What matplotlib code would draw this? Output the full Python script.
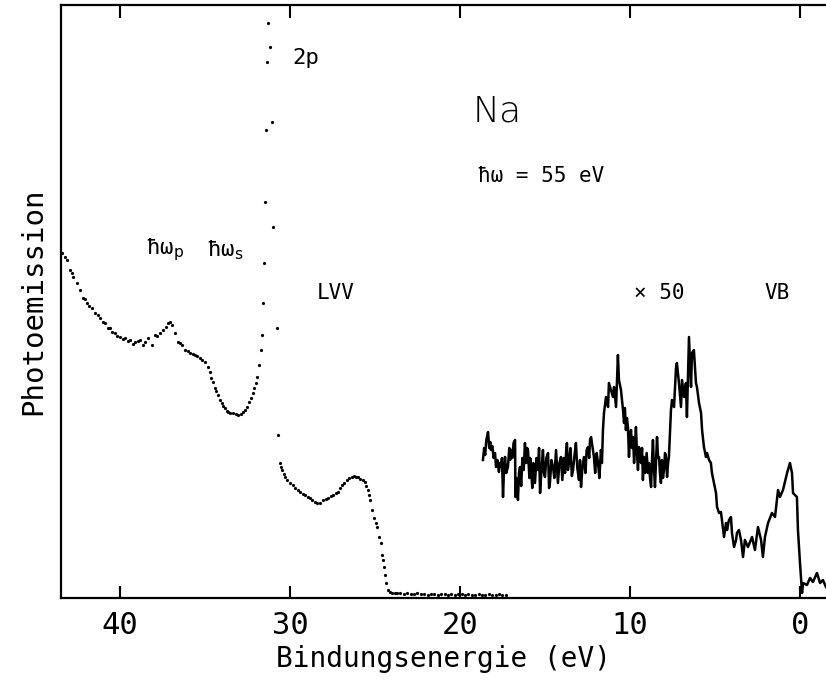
import matplotlib
matplotlib.use("Agg")
import matplotlib.pyplot as plt

# ---- main (dotted) spectrum: binding energy (eV) vs. photoemission (arb. units)
main_E = [43.41, 43.25, 43.12, 42.94, 42.85, 42.76, 42.53, 42.35, 42.18, 42.05,
          41.94, 41.80, 41.65, 41.47, 41.30, 41.18, 41.02, 40.88, 40.72, 40.59,
          40.45, 40.29, 40.15, 40.00, 39.85, 39.71, 39.55, 39.41, 39.25, 39.12,
          38.95, 38.82, 38.65, 38.53, 38.35, 38.12, 37.94, 37.80, 37.65, 37.47,
          37.30, 37.18, 37.05, 36.94, 36.76, 36.59, 36.45, 36.35, 36.18, 36.02,
          35.88, 35.70, 35.59, 35.45, 35.29, 35.15, 35.00, 34.82, 34.71, 34.62,
          34.53, 34.41, 34.33, 34.24, 34.12, 34.00, 33.92, 33.82, 33.72, 33.65,
          33.50, 33.35, 33.20, 33.06, 32.90, 32.76, 32.65, 32.53, 32.40, 32.29,
          32.20, 32.12, 32.02, 31.94, 31.82, 31.71, 31.65, 31.59, 31.53, 31.47,
          31.41, 31.35, 31.29,
          31.18, 31.06, 31.00, 30.76, 30.71, 30.59, 30.53, 30.47, 30.38, 30.29,
          30.15, 30.00, 29.85, 29.71, 29.55, 29.41, 29.25, 29.12, 28.95, 28.82,
          28.68, 28.53, 28.40, 28.24, 28.06, 27.90, 27.76, 27.60, 27.47, 27.30,
          27.18, 27.05, 26.94, 26.80, 26.65, 26.50, 26.35, 26.22, 26.12, 26.00,
          25.88, 25.72, 25.59, 25.50, 25.41, 25.35, 25.29, 25.18, 25.06, 24.97,
          24.88, 24.76, 24.65, 24.59, 24.53, 24.47, 24.41, 24.35, 24.24, 24.12,
          24.00, 23.85, 23.71,
          23.5, 23.3, 23.1, 22.9, 22.7, 22.5, 22.3, 22.1, 21.9, 21.7,
          21.5, 21.3, 21.1, 20.9, 20.7, 20.5, 20.3, 20.1, 19.9, 19.7,
          19.5, 19.3, 19.1, 18.9, 18.7, 18.5, 18.3, 18.1, 17.9, 17.7,
          17.5, 17.3]
main_I = [345, 341, 338, 328, 325, 321, 315, 308, 300, 299,
          295, 292, 290, 285, 283, 280, 276, 275, 270, 270,
          266, 265, 262, 261, 259, 260, 257, 258, 254, 256,
          257, 258, 253, 256, 260, 253, 263, 262, 265, 268,
          271, 275, 276, 273, 265, 256, 255, 253, 248, 247,
          245, 244, 243, 242, 240, 238, 236, 231, 226, 220,
          216, 210, 207, 203, 198, 195, 192, 190, 187, 186,
          185, 185, 184, 183, 184, 186, 188, 191, 196, 200,
          205, 210, 215, 221, 233, 248, 263, 295, 335, 396,
          468, 536, 575,
          551, 476, 371, 270, 163, 135, 131, 128, 124, 121,
          118, 115, 113, 110, 108, 106, 104, 103, 101, 100,
          98, 96, 95, 95, 98, 99, 100, 102, 103, 105,
          106, 110, 113, 115, 118, 120, 121, 122, 121, 121,
          119, 118, 116, 112, 108, 103, 98, 88, 80, 75,
          71, 61, 55, 43, 38, 31, 23, 15, 8, 6,
          5, 5, 5,
          5, 4, 5, 4, 4, 5, 4, 4, 3, 4,
          4, 3, 4, 4, 3, 4, 3, 4, 4, 3,
          4, 3, 3, 4, 3, 3, 4, 3, 3, 4,
          3, 3]

# ---- valence band region, magnified x 50
vb_E = [18.65, 18.58, 18.52, 18.45, 18.35, 18.28, 18.22, 18.18, 18.10, 18.02,
        17.94, 17.88, 17.80, 17.71, 17.65, 17.59, 17.53, 17.47, 17.41, 17.35,
        17.28, 17.18, 17.10, 17.05, 17.00, 16.92, 16.85, 16.76, 16.74, 16.68,
        16.59, 16.53, 16.47, 16.40, 16.33, 16.25, 16.18, 16.10, 16.05, 16.00,
        15.92, 15.87, 15.82, 15.75, 15.68, 15.59, 15.50, 15.41, 15.35, 15.29,
        15.20, 15.12, 15.06, 15.00, 14.92, 14.82, 14.76, 14.71, 14.62, 14.53,
        14.45, 14.35, 14.29, 14.24, 14.15, 14.06, 13.98, 13.90, 13.82, 13.76,
        13.71, 13.65, 13.59, 13.50, 13.42, 13.35, 13.25, 13.18, 13.10, 13.00,
        12.94, 12.88, 12.80, 12.71, 12.62, 12.55, 12.47, 12.40, 12.35, 12.29,
        12.20, 12.12, 12.05, 11.96, 11.88, 11.80, 11.71, 11.65, 11.59, 11.53,
        11.41, 11.29, 11.24, 11.00, 10.94, 10.82, 10.71, 10.65, 10.53, 10.41,
        10.35, 10.30, 10.24, 10.18, 10.12, 10.06, 10.00, 9.94, 9.88, 9.82,
        9.76, 9.70, 9.65, 9.59, 9.53, 9.47, 9.41, 9.35, 9.29, 9.24,
        9.18, 9.10, 9.02, 8.94, 8.88, 8.82, 8.76, 8.70, 8.65, 8.59,
        8.53, 8.47, 8.41, 8.35, 8.29, 8.24, 8.18, 8.12, 8.06, 8.00,
        7.94, 7.88, 7.82, 7.76, 7.71, 7.65, 7.59, 7.53, 7.41, 7.29,
        7.24, 7.12, 7.00, 6.94, 6.82, 6.71, 6.65, 6.53, 6.47, 6.41,
        6.35, 6.24, 6.12, 6.06, 5.94, 5.82, 5.76, 5.65, 5.53, 5.47,
        5.35, 5.24, 5.18, 5.06, 4.94, 4.88, 4.76, 4.65, 4.59, 4.47,
        4.35, 4.29, 4.18, 4.06, 4.00, 3.88, 3.76, 3.71, 3.59, 3.47,
        3.35, 3.24, 3.06, 2.82, 2.65, 2.47, 2.29, 2.18, 2.06, 1.88,
        1.65, 1.47, 1.29, 1.18, 1.00, 0.76, 0.59, 0.47, 0.41, 0.18,
        0.12, 0.00, -0.12, -0.18, -0.41, -0.59, -0.76, -1.00, -1.18, -1.35,
        -1.53]
vb_I = [138, 150, 143, 158, 166, 150, 156, 148, 152, 140,
        145, 131, 138, 126, 135, 131, 140, 101, 128, 141,
        125, 131, 150, 138, 148, 140, 155, 158, 101, 120,
        98, 125, 131, 112, 140, 128, 155, 135, 150, 148,
        120, 140, 131, 110, 135, 115, 140, 128, 150, 105,
        130, 148, 125, 121, 140, 145, 110, 115, 138, 131,
        120, 148, 130, 115, 135, 141, 118, 140, 125, 145,
        155, 128, 135, 150, 122, 128, 145, 155, 130, 118,
        138, 111, 130, 141, 125, 148, 151, 140, 158, 161,
        150, 141, 125, 145, 135, 120, 148, 135, 168, 185,
        201, 191, 215, 201, 211, 191, 243, 218, 208, 188,
        175, 190, 168, 180, 171, 141, 160, 168, 150, 161,
        135, 155, 171, 145, 128, 151, 140, 135, 150, 118,
        141, 125, 145, 125, 135, 120, 111, 140, 158, 130,
        111, 135, 161, 140, 141, 125, 115, 138, 120, 128,
        145, 141, 121, 135, 141, 165, 188, 198, 191, 231,
        235, 215, 191, 218, 201, 215, 181, 261, 235, 211,
        245, 248, 215, 211, 195, 185, 168, 151, 141, 145,
        138, 135, 125, 115, 105, 91, 85, 86, 78, 61,
        75, 68, 78, 81, 65, 51, 58, 65, 68, 58,
        41, 58, 51, 61, 48, 71, 58, 41, 61, 75,
        85, 81, 108, 101, 108, 125, 135, 125, 105, 101,
        68, 35, 5, 15, 13, 20, 16, 25, 15, 18,
        11]

x_ticks = [40, 30, 20, 10, 0]
x_tick_labels = ["40", "30", "20", "10", "0"]

W, H = 826, 688
fig = plt.figure(figsize=(W / 100, H / 100), dpi=100)
ax = fig.add_axes([61 / W, 90 / H, (W - 61) / W, (598 - 5) / H])

ax.plot(main_E, main_I, linestyle="none", marker="o", markersize=2.3,
        color="black", markeredgewidth=0)
ax.plot(vb_E, vb_I, color="black", linewidth=1.8)

ax.set_xlim(43.47, -1.53)
ax.set_ylim(0, 593)
ax.set_xticks(x_ticks)
mono = "DejaVu Sans Mono"
ax.set_xticklabels(x_tick_labels, family=mono, fontsize=22)
ax.set_yticks([])
ax.tick_params(axis="x", direction="in", length=9, width=1.5, top=True,
               bottom=True, pad=9)
for side in ["left", "bottom", "top"]:
    ax.spines[side].set_linewidth(1.6)
ax.spines["right"].set_visible(False)

ax.set_xlabel("Bindungsenergie (eV)", family=mono, fontsize=20, labelpad=4)
ax.set_ylabel("Photoemission", family=mono, fontsize=21, labelpad=10)

ax.text(29.1, 540, "2p", family=mono, fontsize=16, ha="center", va="center")
ax.text(17.8, 487, "Na", family="DejaVu Sans", fontsize=26, ha="center",
        va="center", fontweight="light")
ax.text(15.2, 422, "ħω = 55 eV", family=mono, fontsize=15,
        ha="center", va="center")
ax.text(37.35, 348, r"ħω$_\mathrm{p}$", family=mono, fontsize=16,
        ha="center", va="center")
ax.text(33.8, 348, r"ħω$_\mathrm{s}$", family=mono, fontsize=16,
        ha="center", va="center")
ax.text(27.3, 305, "LVV", family=mono, fontsize=15, ha="center", va="center")
ax.text(8.3, 305, "× 50", family=mono, fontsize=15, ha="center", va="center")
ax.text(1.35, 305, "VB", family=mono, fontsize=15, ha="center", va="center")

fig.savefig("out.png", dpi=100)
